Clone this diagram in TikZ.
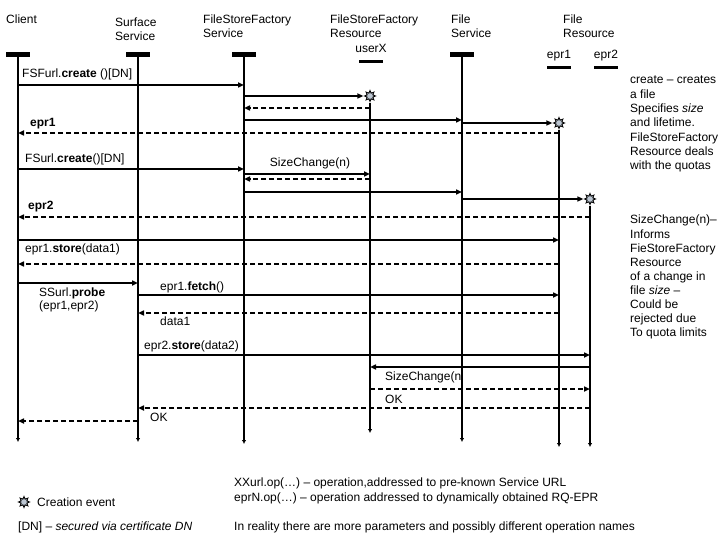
\documentclass[tikz,border=0pt]{standalone}
\usepackage{fontspec}
\setmainfont{Liberation Sans}
\usetikzlibrary{arrows.meta,shapes.geometric}
\definecolor{starfill}{RGB}{188,198,210}
\begin{document}
\begin{tikzpicture}[x=1pt,y=-1pt,
  txt/.style={anchor=base west,inner sep=0,font=\fontsize{12}{14}\selectfont},
  ctxt/.style={anchor=base,inner sep=0,font=\fontsize{12}{14}\selectfont},
  hbar/.style={fill=black,inner sep=0,minimum width=24pt,minimum height=5pt},
  ubar/.style={fill=black,inner sep=0,minimum width=24pt,minimum height=3pt},
  life/.style={line width=2.3pt,-{Latex[length=4pt,width=4.5pt]}},
  msg/.style={line width=1.9pt,-{Triangle[length=6pt,width=5pt]}},
  ret/.style={msg,dash pattern=on 5pt off 3pt},
  creation/.style={star,star points=8,star point ratio=1.8,minimum size=11pt,inner sep=0,fill=starfill,draw=black,line width=0.9pt}]
\useasboundingbox (0,0) rectangle (720,540);

% ---------- headers ----------
\node[txt] (hcl) at (6,24) {Client};
\node[txt] (hss1) at (115,27) {Surface};
\node[txt] (hss2) at (115,41) {Service};
\node[txt] (hfs1) at (203,24) {FileStoreFactory};
\node[txt] (hfs2) at (203,38) {Service};
\node[txt] (hfr1) at (330,24) {FileStoreFactory};
\node[txt] (hfr2) at (330,38) {Resource};
\node[ctxt] (hfr3) at (371,53) {userX};
\node[txt] (hfl1) at (451,24) {File};
\node[txt] (hfl2) at (451,38) {Service};
\node[txt] (he1) at (563,24) {File};
\node[txt] (he2) at (563,38) {Resource};
\node[ctxt] (he3) at (559,59) {epr1};
\node[ctxt] (he4) at (606,59) {epr2};

\node[hbar] (bcl) at (18,54.5) {};
\node[hbar] (bss) at (138,54.5) {};
\node[hbar] (bfs) at (244,54.5) {};
\node[ubar] (bfr) at (371,61.5) {};
\node[hbar] (bfl) at (462,54.5) {};
\node[ubar] (be1) at (559,67.5) {};
\node[ubar] (be2) at (606,67.5) {};

% ---------- message labels ----------
\node[txt] (t1) at (22,78) {FSFurl.\textbf{create} ()[DN]};
\node[txt] (t2) at (30,127) {\textbf{epr1}};
\node[txt] (t3) at (25,163) {FSurl.\textbf{create}()[DN]};
\node[ctxt] (t4) at (310,167) {SizeChange(n)};
\node[txt] (t5) at (28,210) {\textbf{epr2}};
\node[txt] (t6) at (25,252) {epr1.\textbf{store}(data1)};
\node[txt] (t7) at (39,296) {SSurl.\textbf{probe}};
\node[txt] (t8) at (39,309) {(epr1,epr2)};
\node[txt] (t9) at (160,290) {epr1.\textbf{fetch}()};
\node[txt] (t10) at (160,325) {data1};
\node[txt] (t11) at (144,349) {epr2.\textbf{store}(data2)};
\node[txt] (t12) at (385,380) {SizeChange(n};
\node[txt] (t13) at (385,403) {OK};
\node[txt] (t14) at (150,421) {OK};

% ---------- notes ----------
\node[txt] (n1) at (630,84) {create – creates};
\node[txt] (n2) at (630,98.3) {a file};
\node[txt] (n3) at (630,112.6) {Specifies \textit{size}};
\node[txt] (n4) at (630,126.9) {and lifetime.};
\node[txt] (n5) at (630,141.2) {FileStoreFactory};
\node[txt] (n6) at (630,155.5) {Resource deals};
\node[txt] (n7) at (630,169.8) {with the quotas};

\node[txt] (k1) at (630,224) {SizeChange(n)–};
\node[txt] (k2) at (630,238.1) {Informs};
\node[txt] (k3) at (630,252.2) {FieStoreFactory};
\node[txt] (k4) at (630,266.3) {Resource};
\node[txt] (k5) at (630,280.4) {of a change in};
\node[txt] (k6) at (630,294.5) {file \textit{size} –};
\node[txt] (k7) at (630,308.6) {Could be};
\node[txt] (k8) at (630,322.7) {rejected due};
\node[txt] (k9) at (630,336.8) {To quota limits};

\node[creation] (legstar) at (24,502) {};
\node[txt] (l1) at (37,506) {Creation event};
\node[txt] (l2) at (18,530) {[DN] – \textit{secured via certificate DN}};
\node[txt] (l3) at (234,486) {XXurl.op(…) – operation,addressed to pre-known Service URL};
\node[txt] (l4) at (234,501) {eprN.op(…) – operation addressed to dynamically obtained RQ-EPR};
\node[txt] (l5) at (234,530) {In reality there are more parameters and possibly different operation names};

% ---------- creation events ----------
\node[creation] (s1) at (370,96) {};
\node[creation] (s2) at (559,123) {};
\node[creation] (s3) at (590,199) {};

% ---------- lifeline ends ----------
\coordinate (cl) at (18,442);
\coordinate (ss) at (138,442);
\coordinate (fs) at (244,444);
\coordinate (fr) at (370,433);
\coordinate (fl) at (462,442);
\coordinate (e1) at (559,447);
\coordinate (e2) at (590,447);

\draw[life] (bcl.center) -- (cl);
\draw[life] (bss.center) -- (ss);
\draw[life] (bfs.center) -- (fs);
\draw[life] (s1.south) -- (fr);
\draw[life] (bfl.center) -- (fl);
\draw[life] (s2.south) -- (e1);
\draw[life] (s3.south) -- (e2);

% ---------- messages ----------
\draw[msg] (cl |- 0,85) -- (fs |- 0,85);
\draw[msg] (fs |- s1) -- (s1.west);
\draw[ret] (fr |- 0,108) -- (fs |- 0,108);
\draw[msg] (fs |- 0,120) -- (fl |- 0,120);
\draw[msg] (fl |- s2) -- (s2.west);
\draw[ret] (e1 |- 0,133) -- (cl |- 0,133);
\draw[msg] (cl |- 0,169) -- (fs |- 0,169);
\draw[msg] (fs |- 0,174) -- (fr |- 0,174);
\draw[ret] (fr |- 0,179) -- (fs |- 0,179);
\draw[msg] (fs |- 0,192) -- (fl |- 0,192);
\draw[msg] (fl |- s3) -- (s3.west);
\draw[ret] (e2 |- 0,217) -- (cl |- 0,217);
\draw[msg] (cl |- 0,240) -- (e1 |- 0,240);
\draw[ret] (e1 |- 0,264) -- (cl |- 0,264);
\draw[msg] (cl |- 0,283) -- (ss |- 0,283);
\draw[msg] (ss |- 0,295) -- (e1 |- 0,295);
\draw[ret] (e1 |- 0,313) -- (ss |- 0,313);
\draw[msg] (ss |- 0,355) -- (e2 |- 0,355);
\draw[msg] (e2 |- 0,367) -- (fr |- 0,367);
\draw[ret] (fr |- 0,389) -- (e2 |- 0,389);
\draw[ret] (e2 |- 0,408) -- (ss |- 0,408);
\draw[ret] (ss |- 0,421) -- (cl |- 0,421);
\end{tikzpicture}
\end{document}
